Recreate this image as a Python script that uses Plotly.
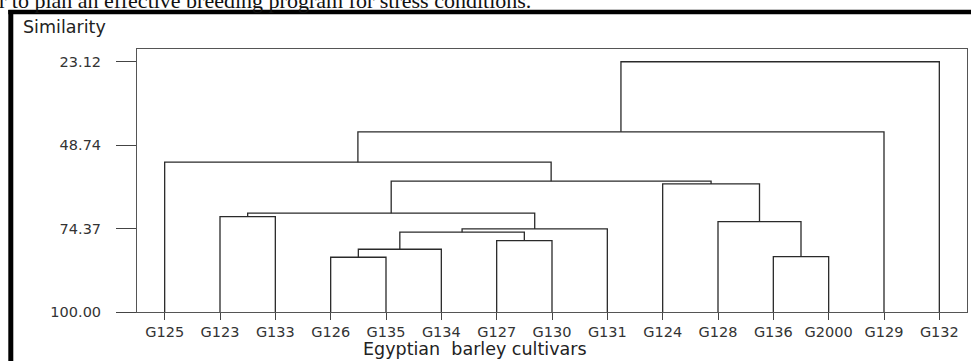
import plotly.graph_objects as go

# ---- data ----
leaves = ["G125", "G123", "G133", "G126", "G135", "G134", "G127", "G130",
          "G131", "G124", "G128", "G136", "G2000", "G129", "G132"]

# merges: (left member, right member, similarity level)
merge_names = ["c1", "c2", "c3", "c4", "c5", "c6", "c7", "c8", "c9",
               "c10", "c11", "c12", "c13", "c14"]
merge_left = ["G126", "c1", "G127", "c2", "c4", "G123", "c6", "G136", "G128",
              "G124", "c7", "G125", "c12", "c13"]
merge_right = ["G135", "G134", "G130", "c3", "G131", "G133", "c5", "G2000", "c8",
               "c9", "c10", "c11", "G129", "G132"]
merge_height = [83.18, 80.72, 78.07, 75.49, 74.47, 70.69, 69.65, 82.99, 72.23,
                60.64, 59.80, 53.96, 44.65, 23.12]

y_tick_vals = [23.12, 48.74, 74.37, 100.00]
y_tick_text = ["23.12", "48.74", "74.37", "100.00"]

# ---- build dendrogram geometry from data ----
pos = {name: (i + 1, 100.0) for i, name in enumerate(leaves)}
xs, ys = [], []
for nm, l, r, h in zip(merge_names, merge_left, merge_right, merge_height):
    xl, yl = pos[l]
    xr, yr = pos[r]
    xs += [xl, xl, xr, xr, None]
    ys += [yl, h, h, yr, None]
    pos[nm] = ((xl + xr) / 2, h)

fig = go.Figure()
fig.add_trace(go.Scatter(x=xs, y=ys, mode="lines",
                         line=dict(color="#2a2a2a", width=1.3),
                         hoverinfo="skip", showlegend=False))

W, H = 971, 361
L, R, T, B = 137, 4, 49, 49
pw, ph = W - L - R, H - T - B

def px_x(px):
    return (px - L) / pw

def px_y(py):
    return (H - B - py) / ph

fig.update_layout(
    width=W, height=H,
    margin=dict(l=L, r=R, t=T, b=B, pad=0),
    paper_bgcolor="white", plot_bgcolor="white",
    font=dict(family="DejaVu Sans", color="#333333"),
    xaxis=dict(range=[0.5, 15.5], tickvals=list(range(1, len(leaves) + 1)),
               ticktext=leaves, ticks="outside", ticklen=7, tickcolor="#444",
               tickwidth=1, showline=True, linecolor="#555", linewidth=1,
               mirror=True, showgrid=False, zeroline=False,
               tickfont=dict(size=14.5, color="#333")),
    yaxis=dict(range=[100, 19.2], tickvals=y_tick_vals, ticktext=y_tick_text,
               ticks="outside", ticklen=20, tickcolor="#444", tickwidth=1,
               showline=True, linecolor="#555", linewidth=1, mirror=True,
               showgrid=False, zeroline=False, ticklabelstandoff=12,
               tickfont=dict(size=14.5, color="#333")),
    annotations=[
        dict(text="Similarity", xref="paper", yref="paper",
             x=px_x(21), y=px_y(27), xanchor="left", yanchor="middle",
             showarrow=False, font=dict(size=17.5, color="#222")),
        dict(text="Egyptian  barley cultivars", xref="paper", yref="paper",
             x=px_x(475), y=px_y(349), xanchor="center", yanchor="middle",
             showarrow=False, font=dict(size=17.5, color="#222")),
        dict(text="r to plan an effective breeding program for stress conditions.",
             xref="paper", yref="paper", x=px_x(-3), y=px_y(0),
             xanchor="left", yanchor="middle", showarrow=False,
             font=dict(family="Liberation Serif", size=22, color="#111")),
    ],
    shapes=[
        dict(type="line", xref="paper", yref="paper",
             x0=px_x(10.8), x1=px_x(10.8), y0=px_y(10), y1=px_y(365),
             line=dict(color="black", width=5)),
        dict(type="line", xref="paper", yref="paper",
             x0=px_x(8.3), x1=px_x(975), y0=px_y(12), y1=px_y(12),
             line=dict(color="black", width=4.5)),
    ],
)

fig.write_html("out.html",
               config={"displayModeBar": False},
               post_script="document.body.style.margin='0';"
                           "document.body.style.overflow='hidden';")
